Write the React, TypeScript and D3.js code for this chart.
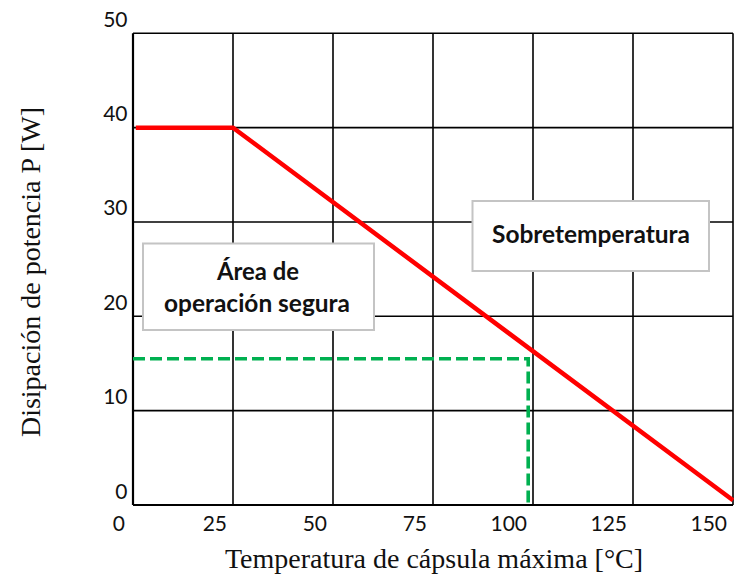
import React from "react";
import * as d3 from "d3";

const xTicks = [0, 25, 50, 75, 100, 125, 150];
const yTicks = [0, 10, 20, 30, 40, 50];
const deratingT = [0.7, 25, 150];
const deratingP = [40, 40, 0.5];
const safeT = [0, 98.8, 98.8];
const safeP = [15.5, 15.5, 0];
const xTitle = "Temperatura de cápsula máxima [°C]";
const yTitle = "Disipación de potencia P [W]";
const overLabel = ["Sobretemperatura"];
const safeLabel = ["Área de", "operación segura"];

const W = 734;
const H = 579;

export default function App() {
  const x = d3.scaleLinear().domain([0, 150]).range([133, 733]);
  const y = d3.scaleLinear().domain([0, 50]).range([505, 33.3]);
  const line = d3
    .line<[number, number]>()
    .x((d) => x(d[0]))
    .y((d) => y(d[1]));
  const red = line(deratingT.map((t, i) => [t, deratingP[i]] as [number, number])) || "";
  const green = line(safeT.map((t, i) => [t, safeP[i]] as [number, number])) || "";

  const tickFont = "Lato, 'Open Sans', sans-serif";
  const boxFont = "Lato, 'Open Sans', sans-serif";
  const serif = "'Liberation Serif', 'Times New Roman', serif";

  return (
    <svg
      width={W}
      height={H}
      viewBox={`0 0 ${W} ${H}`}
      style={{ position: "absolute", left: 0, top: 0, background: "#fff" }}
    >
      <rect x={0} y={0} width={W} height={H} fill="#fff" />
      {/* grid */}
      {xTicks.map((t) => (
        <line key={"gx" + t} x1={x(t)} x2={x(t)} y1={y(50)} y2={y(0)} stroke="#000" strokeWidth={t === 0 ? 2.2 : 1.6} />
      ))}
      {yTicks.map((t) => (
        <line key={"gy" + t} x1={x(0)} x2={x(150)} y1={y(t)} y2={y(t)} stroke="#000" strokeWidth={t === 0 ? 2.2 : 1.6} />
      ))}
      {/* lines */}
      <path d={green} fill="none" stroke="#00b050" strokeWidth={3.6} strokeDasharray="12 5" />
      <path d={red} fill="none" stroke="#ff0000" strokeWidth={4.5} strokeLinejoin="miter" />
      {/* tick labels */}
      {yTicks.map((t) => (
        <text key={"yl" + t} x={127.5} y={y(t) - 6.5} textAnchor="end" fontFamily={tickFont} fontSize={21} fill="#111">
          {t}
        </text>
      ))}
      {xTicks.map((t) => (
        <text key={"xl" + t} x={x(t) - (t === 0 ? 8 : 6)} y={531} textAnchor="end" fontFamily={tickFont} fontSize={21} fill="#111">
          {t}
        </text>
      ))}
      {/* boxes */}
      <rect x={472.5} y={201} width={236.5} height={70} fill="#fff" stroke="#c4c4c4" strokeWidth={2} />
      <text x={591} y={243} textAnchor="middle" fontFamily={boxFont} fontWeight={700} fontSize={24} fill="#111" textLength={198} lengthAdjust="spacingAndGlyphs">
        {overLabel[0]}
      </text>
      <rect x={143} y={243.5} width={231} height={86.5} fill="#fff" stroke="#c4c4c4" strokeWidth={2} />
      <text x={258} y={280} textAnchor="middle" fontFamily={boxFont} fontWeight={700} fontSize={24} fill="#111" textLength={82} lengthAdjust="spacingAndGlyphs">
        {safeLabel[0]}
      </text>
      <text x={257} y={311.5} textAnchor="middle" fontFamily={boxFont} fontWeight={700} fontSize={24} fill="#111" textLength={186} lengthAdjust="spacingAndGlyphs">
        {safeLabel[1]}
      </text>
      {/* axis titles */}
      <text x={434} y={568} textAnchor="middle" fontFamily={serif} fontSize={28} fill="#111">
        {xTitle}
      </text>
      <text transform={`translate(40, 272) rotate(-90)`} textAnchor="middle" fontFamily={serif} fontSize={28} fill="#111">
        {yTitle}
      </text>
    </svg>
  );
}
